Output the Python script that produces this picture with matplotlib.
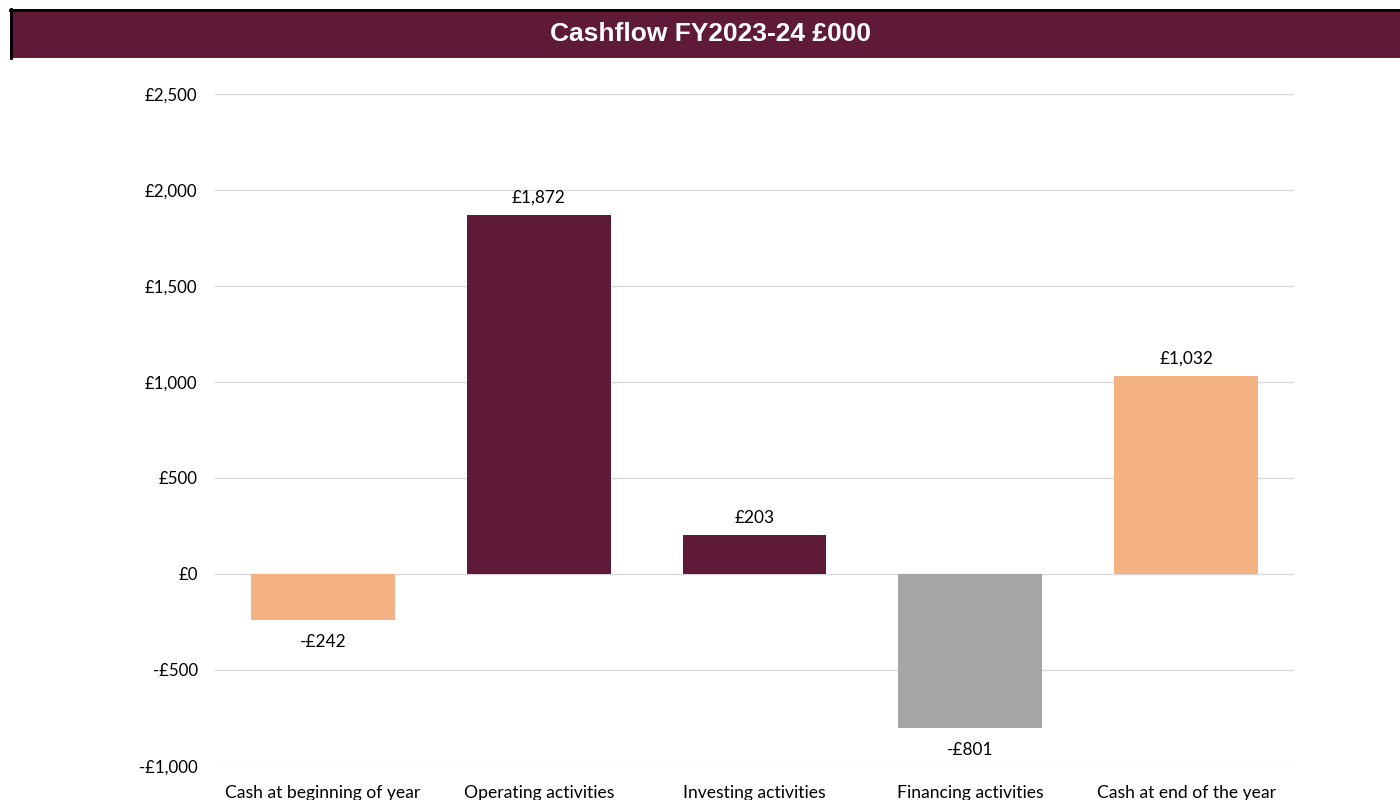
import matplotlib.pyplot as plt
from matplotlib.patches import Rectangle
from matplotlib.ticker import FuncFormatter

categories = ['Cash at beginning of year', 'Operating activities', 'Investing activities',
              'Financing activities', 'Cash at end of the year']
values = [-242, 1872, 203, -801, 1032]
bar_colors = ['#F4B183', '#5F1A37', '#5F1A37', '#A6A6A6', '#F4B183']
yticks = [-1000, -500, 0, 500, 1000, 1500, 2000, 2500]

plt.rcParams['font.family'] = ['Lato', 'DejaVu Sans']


def money(v, pos=None):
    v = int(round(v))
    if v < 0:
        return '-£{:,}'.format(-v)
    return '£{:,}'.format(v)


fig = plt.figure(figsize=(14, 8), dpi=100)

# title banner with dark edge on top and left
fig.patches.append(Rectangle((10 / 1400, 1 - 58 / 800), 1 - 10 / 1400, 49 / 800,
                             transform=fig.transFigure, facecolor='#5F1A37', edgecolor='none'))
fig.add_artist(plt.Line2D([10 / 1400, 1], [1 - 10 / 800, 1 - 10 / 800], transform=fig.transFigure,
                          color='black', lw=2))
fig.add_artist(plt.Line2D([11 / 1400, 11 / 1400], [1 - 9 / 800, 1 - 58 / 800], transform=fig.transFigure,
                          color='black', lw=2))
fig.text(711 / 1400, 1 - 34 / 800, 'Cashflow FY2023-24 £000', color='white', fontsize=19,
         fontweight='bold', family=['Liberation Sans', 'DejaVu Sans'], ha='center', va='center')

ax = fig.add_axes([215 / 1400, 34 / 800, (1294 - 215) / 1400, 672 / 800])
x = range(len(categories))
bars = ax.bar(x, values, width=0.667, color=bar_colors, zorder=3)

for xi, v in zip(x, values):
    if v >= 0:
        ax.annotate(money(v), (xi, v), xytext=(0, 6.5), textcoords='offset points',
                    ha='center', va='bottom', fontsize=12.4)
    else:
        ax.annotate(money(v), (xi, v), xytext=(0, -10), textcoords='offset points',
                    ha='center', va='top', fontsize=12.4)

ax.set_ylim(-1000, 2500)
ax.set_xlim(-0.5, len(categories) - 0.5)
ax.set_yticks(yticks)
ax.yaxis.set_major_formatter(FuncFormatter(money))
ax.set_xticks(list(x))
ax.set_xticklabels(categories, fontsize=12.6)
ax.tick_params(axis='both', length=0, colors='black')
ax.tick_params(axis='y', pad=12.5, labelsize=12.2)
ax.tick_params(axis='x', pad=14)
ax.grid(axis='y', color='#D9D9D9', lw=1, zorder=0)
for s in ax.spines.values():
    s.set_visible(False)

fig.savefig('out.png', dpi=100)
